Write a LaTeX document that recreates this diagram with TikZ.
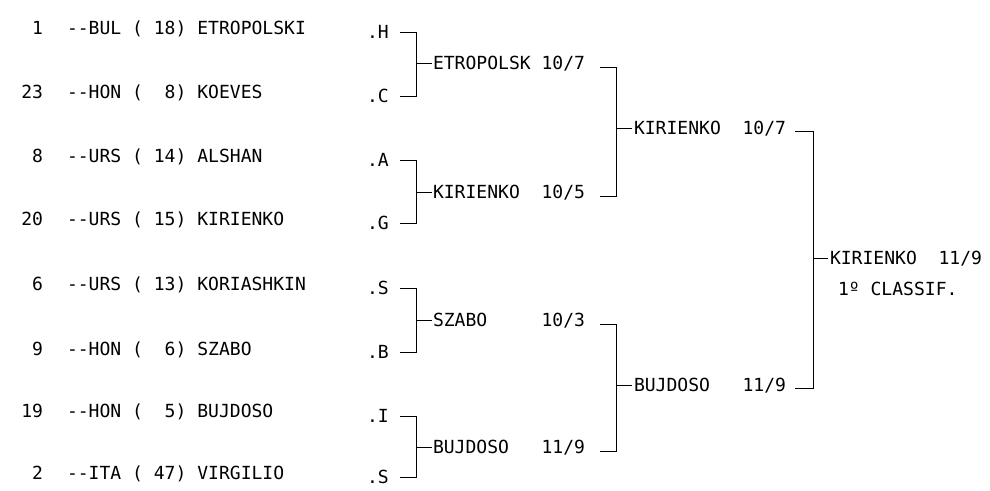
\documentclass[tikz,border=0pt]{standalone}
\usepackage{fontspec}
\setmonofont{DejaVu Sans Mono}
\begin{document}
\begin{tikzpicture}[x=1pt,y=-1pt,
  txt/.style={font=\ttfamily\fontsize{18.04pt}{20pt}\selectfont, inner sep=0pt, outer sep=0pt,
              text height=13.2pt, text depth=0pt, anchor=west, text=black},
  num/.style={txt, anchor=east},
  br/.style={line width=0.9pt, black}]
\useasboundingbox (0,0) rectangle (990,490);
\fill[white] (0,0) rectangle (990,490);
\frenchspacing
% left column: seeds
\node[num] (n1) at (43,28)  {1};
\node[num] (n2) at (43,92)  {23};
\node[num] (n3) at (43,156) {8};
\node[num] (n4) at (43,219) {20};
\node[num] (n5) at (43,284) {6};
\node[num] (n6) at (43,349) {9};
\node[num] (n7) at (43,411) {19};
\node[num] (n8) at (43,473) {2};
% left column: entries
\node[txt] (e1) at (67,28)  {--BUL ( 18) ETROPOLSKI};
\node[txt] (e2) at (67,92)  {--HON (~~8) KOEVES};
\node[txt] (e3) at (67,156) {--URS ( 14) ALSHAN};
\node[txt] (e4) at (67,219) {--URS ( 15) KIRIENKO};
\node[txt] (e5) at (67,284) {--URS ( 13) KORIASHKIN};
\node[txt] (e6) at (67,349) {--HON (~~6) SZABO};
\node[txt] (e7) at (67,411) {--HON (~~5) BUJDOSO};
\node[txt] (e8) at (67,473) {--ITA ( 47) VIRGILIO};
% middle letters
\node[txt] (m1) at (367,32)  {.H};
\node[txt] (m2) at (367,96)  {.C};
\node[txt] (m3) at (367,160) {.A};
\node[txt] (m4) at (367,223) {.G};
\node[txt] (m5) at (367,288) {.S};
\node[txt] (m6) at (367,352) {.B};
\node[txt] (m7) at (367,416) {.I};
\node[txt] (m8) at (367,477) {.S};
% round 1 winners
\node[txt] (w1) at (433,63)  {ETROPOLSK 10/7};
\node[txt] (w2) at (433,192) {KIRIENKO~~10/5};
\node[txt] (w3) at (433,320) {SZABO~~~~~10/3};
\node[txt] (w4) at (433,447) {BUJDOSO~~~11/9};
% round 2 winners
\node[txt] (k1) at (634,128) {KIRIENKO~~10/7};
\node[txt] (k2) at (634,385) {BUJDOSO~~~11/9};
% final
\node[txt] (f)  at (830,258) {KIRIENKO~~11/9};
\node[txt] (cl) at (838,289) {1º CLASSIF.};
% brackets round 1
\foreach \a/\b/\w in {m1/m2/w1, m3/m4/w2, m5/m6/w3, m7/m8/w4}{
  \draw[br] ([xshift=11pt]\a.east) -| ([xshift=-17pt]\w.west);
  \draw[br] ([xshift=11pt]\b.east) -| ([xshift=-17pt]\w.west) -- ([xshift=-1pt]\w.west);
}
% brackets round 2
\foreach \a/\b/\w in {w1/w2/k1, w3/w4/k2}{
  \draw[br] ([xshift=15pt,yshift=-4pt]\a.east) -| ([xshift=-18pt]\w.west);
  \draw[br] ([xshift=15pt,yshift=-4pt]\b.east) -| ([xshift=-18pt]\w.west) -- ([xshift=-2pt]\w.west);
}
% final bracket
\draw[br] ([xshift=9pt,yshift=-3pt]k1.east) -| ([xshift=-17pt]f.west);
\draw[br] ([xshift=9pt,yshift=-3pt]k2.east) -| ([xshift=-17pt]f.west) -- ([xshift=-2pt]f.west);
\end{tikzpicture}
\end{document}
